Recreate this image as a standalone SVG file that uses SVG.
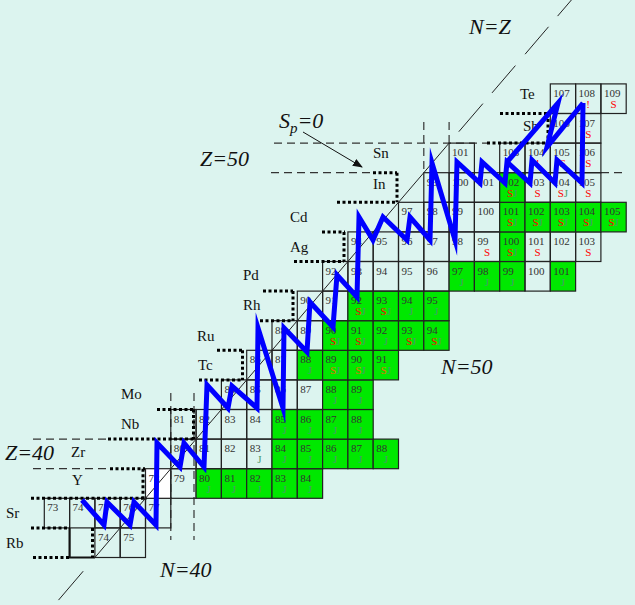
<svg xmlns="http://www.w3.org/2000/svg" width="635" height="605" viewBox="0 0 635 605">
<style>
.bg{fill:#dcf4ef}
.c{fill:none;stroke:#222;stroke-width:1.2}
.g{fill:#00e800}
.w{fill:#ffffff}
.n{font-family:"Liberation Serif",serif;font-size:11px;fill:#333}
.m{font-family:"Liberation Serif",serif;font-size:11px;text-anchor:middle}
.s{fill:#ff0000}
.o{fill:#e07000}
.j{fill:#4c9a6c}
.dash{fill:none;stroke:#333;stroke-width:1.2;stroke-dasharray:8 5}
.dot{fill:none;stroke:#000;stroke-width:3;stroke-dasharray:3 2.5}
.nz{fill:none;stroke:#222;stroke-width:1}
.big{font-family:"Liberation Serif",serif;font-size:22px;font-style:italic;fill:#111}
.el{font-family:"Liberation Serif",serif;font-size:15px;fill:#111}
.path{fill:none;stroke:#0000ff;stroke-width:5;stroke-linejoin:miter;stroke-miterlimit:10}
</style>
<defs>
<marker id="ah" markerWidth="10" markerHeight="8" refX="9" refY="4" orient="auto" markerUnits="userSpaceOnUse">
<path d="M0,0 L10,4 L0,8 Z" fill="#111"/>
</marker>
</defs>
<rect class="bg" x="0" y="0" width="635" height="605"/>

<g id="magic-lines">
<path class="dash" d="M33,439.1 H108 M33,468.7 H110"/>
<path class="dash" d="M274,143.1 H487 M271,172.7 H373 M601,172.7 H626"/>
<path class="dash" d="M170.8,393 V540 M194,393 V540"/>
<path class="dash" d="M423.8,122 V172.7 M449.1,122 V143.1"/>
</g>

<g id="cells">
<!-- Rb -->
<g id="Rb-blank"><path d="M69.6,527.9 V557.5 H94.9" fill="none" stroke="#111" stroke-width="2.2"/></g>
<g id="Rb74" transform="translate(94.9,527.9)"><rect class="c" width="25.3" height="29.6"/><text class="n" x="3" y="13">74</text></g>
<g id="Rb75" transform="translate(120.2,527.9)"><rect class="c" width="25.3" height="29.6"/><text class="n" x="3" y="13">75</text></g>
<!-- Sr -->
<g id="Sr73" transform="translate(44.3,498.3)"><rect class="c" width="25.3" height="29.6"/><text class="n" x="3" y="13">73</text></g>
<g id="Sr74" transform="translate(69.6,498.3)"><rect class="c" width="25.3" height="29.6"/><text class="n" x="3" y="13">74</text></g>
<g id="Sr75" transform="translate(94.9,498.3)"><rect class="c" width="25.3" height="29.6"/><text class="n" x="3" y="13">75</text></g>
<g id="Sr76" transform="translate(120.2,498.3)"><rect class="c" width="25.3" height="29.6"/><text class="n" x="3" y="13">76</text></g>
<g id="Sr77" transform="translate(145.5,498.3)"><rect class="c" width="25.3" height="29.6"/><text class="n" x="3" y="13">77</text></g>
<!-- Y -->
<g id="Y78" transform="translate(145.5,468.7)"><rect class="c w" width="25.3" height="29.6"/><text class="n" x="3" y="13">78</text></g>
<g id="Y79" transform="translate(170.8,468.7)"><rect class="c" width="25.3" height="29.6"/><text class="n" x="3" y="13">79</text></g>
<g id="Y80" transform="translate(196.1,468.7)"><rect class="c g" width="25.3" height="29.6"/><text class="n" x="3" y="13">80</text><text class="m j" x="12.6" y="24">J</text></g>
<g id="Y81" transform="translate(221.4,468.7)"><rect class="c g" width="25.3" height="29.6"/><text class="n" x="3" y="13">81</text><text class="m j" x="12.6" y="24">J</text></g>
<g id="Y82" transform="translate(246.7,468.7)"><rect class="c g" width="25.3" height="29.6"/><text class="n" x="3" y="13">82</text><text class="m j" x="12.6" y="24">J</text></g>
<g id="Y83" transform="translate(272,468.7)"><rect class="c g" width="25.3" height="29.6"/><text class="n" x="3" y="13">83</text><text class="m j" x="12.6" y="24">J</text></g>
<g id="Y84" transform="translate(297.3,468.7)"><rect class="c g" width="25.3" height="29.6"/><text class="n" x="3" y="13">84</text><text class="m j" x="12.6" y="24">J</text></g>
<!-- Zr -->
<g id="Zr80" transform="translate(170.8,439.1)"><rect class="c" width="25.3" height="29.6"/><text class="n" x="3" y="13">80</text></g>
<g id="Zr81" transform="translate(196.1,439.1)"><rect class="c" width="25.3" height="29.6"/><text class="n" x="3" y="13">81</text></g>
<g id="Zr82" transform="translate(221.4,439.1)"><rect class="c" width="25.3" height="29.6"/><text class="n" x="3" y="13">82</text></g>
<g id="Zr83" transform="translate(246.7,439.1)"><rect class="c" width="25.3" height="29.6"/><text class="n" x="3" y="13">83</text><text class="m j" x="12.6" y="24">J</text></g>
<g id="Zr84" transform="translate(272,439.1)"><rect class="c g" width="25.3" height="29.6"/><text class="n" x="3" y="13">84</text><text class="m j" x="12.6" y="24">J</text></g>
<g id="Zr85" transform="translate(297.3,439.1)"><rect class="c g" width="25.3" height="29.6"/><text class="n" x="3" y="13">85</text><text class="m j" x="12.6" y="24">J</text></g>
<g id="Zr86" transform="translate(322.6,439.1)"><rect class="c g" width="25.3" height="29.6"/><text class="n" x="3" y="13">86</text><text class="m j" x="12.6" y="24">J</text></g>
<g id="Zr87" transform="translate(347.9,439.1)"><rect class="c g" width="25.3" height="29.6"/><text class="n" x="3" y="13">87</text><text class="m j" x="12.6" y="24">J</text></g>
<g id="Zr88" transform="translate(373.2,439.1)"><rect class="c g" width="25.3" height="29.6"/><text class="n" x="3" y="13">88</text><text class="m j" x="12.6" y="24">J</text></g>
<!-- Nb -->
<g id="Nb81" transform="translate(170.8,409.5)"><rect class="c" width="25.3" height="29.6"/><text class="n" x="3" y="13">81</text></g>
<g id="Nb82" transform="translate(196.1,409.5)"><rect class="c" width="25.3" height="29.6"/><text class="n" x="3" y="13">82</text></g>
<g id="Nb83" transform="translate(221.4,409.5)"><rect class="c" width="25.3" height="29.6"/><text class="n" x="3" y="13">83</text></g>
<g id="Nb84" transform="translate(246.7,409.5)"><rect class="c" width="25.3" height="29.6"/><text class="n" x="3" y="13">84</text></g>
<g id="Nb85" transform="translate(272,409.5)"><rect class="c g" width="25.3" height="29.6"/><text class="n" x="3" y="13">85</text><text class="m j" x="12.6" y="24">J</text></g>
<g id="Nb86" transform="translate(297.3,409.5)"><rect class="c g" width="25.3" height="29.6"/><text class="n" x="3" y="13">86</text><text class="m j" x="12.6" y="24">J</text></g>
<g id="Nb87" transform="translate(322.6,409.5)"><rect class="c g" width="25.3" height="29.6"/><text class="n" x="3" y="13">87</text><text class="m j" x="12.6" y="24">J</text></g>
<g id="Nb88" transform="translate(347.9,409.5)"><rect class="c g" width="25.3" height="29.6"/><text class="n" x="3" y="13">88</text><text class="m j" x="12.6" y="24">J</text></g>
<!-- Mo -->
<g id="Mo84" transform="translate(221.4,379.9)"><rect class="c" width="25.3" height="29.6"/><text class="n" x="3" y="13">84</text></g>
<g id="Mo85" transform="translate(246.7,379.9)"><rect class="c" width="25.3" height="29.6"/><text class="n" x="3" y="13">85</text></g>
<g id="Mo86" transform="translate(272,379.9)"><rect class="c" width="25.3" height="29.6"/><text class="n" x="3" y="13">86</text></g>
<g id="Mo87" transform="translate(297.3,379.9)"><rect class="c" width="25.3" height="29.6"/><text class="n" x="3" y="13">87</text></g>
<g id="Mo88" transform="translate(322.6,379.9)"><rect class="c g" width="25.3" height="29.6"/><text class="n" x="3" y="13">88</text><text class="m j" x="12.6" y="24">J</text></g>
<g id="Mo89" transform="translate(347.9,379.9)"><rect class="c g" width="25.3" height="29.6"/><text class="n" x="3" y="13">89</text><text class="m j" x="12.6" y="24">J</text></g>
<!-- Tc -->
<g id="Tc86" transform="translate(246.7,350.3)"><rect class="c" width="25.3" height="29.6"/><text class="n" x="3" y="13">86</text></g>
<g id="Tc87" transform="translate(272,350.3)"><rect class="c" width="25.3" height="29.6"/><text class="n" x="3" y="13">87</text></g>
<g id="Tc88" transform="translate(297.3,350.3)"><rect class="c g" width="25.3" height="29.6"/><text class="n" x="3" y="13">88</text><text class="m j" x="12.6" y="24">J</text></g>
<g id="Tc89" transform="translate(322.6,350.3)"><rect class="c g" width="25.3" height="29.6"/><text class="n" x="3" y="13">89</text><text class="m" x="12.6" y="24"><tspan class="o">S</tspan><tspan class="j">J</tspan></text></g>
<g id="Tc90" transform="translate(347.9,350.3)"><rect class="c g" width="25.3" height="29.6"/><text class="n" x="3" y="13">90</text><text class="m" x="12.6" y="24"><tspan class="o">S</tspan><tspan class="j">J</tspan></text></g>
<g id="Tc91" transform="translate(373.2,350.3)"><rect class="c g" width="25.3" height="29.6"/><text class="n" x="3" y="13">91</text><text class="m" x="12.6" y="24"><tspan class="o">S</tspan><tspan class="j">J</tspan></text></g>
<!-- Ru -->
<g id="Ru88" transform="translate(272,320.7)"><rect class="c" width="25.3" height="29.6"/><text class="n" x="3" y="13">88</text></g>
<g id="Ru89" transform="translate(297.3,320.7)"><rect class="c" width="25.3" height="29.6"/><text class="n" x="3" y="13">89</text></g>
<g id="Ru90" transform="translate(322.6,320.7)"><rect class="c g" width="25.3" height="29.6"/><text class="n" x="3" y="13">90</text><text class="m" x="12.6" y="24"><tspan class="s">S</tspan><tspan class="j">J</tspan></text></g>
<g id="Ru91" transform="translate(347.9,320.7)"><rect class="c g" width="25.3" height="29.6"/><text class="n" x="3" y="13">91</text><text class="m" x="12.6" y="24"><tspan class="s">S</tspan><tspan class="j">J</tspan></text></g>
<g id="Ru92" transform="translate(373.2,320.7)"><rect class="c g" width="25.3" height="29.6"/><text class="n" x="3" y="13">92</text><text class="m j" x="12.6" y="24">J</text></g>
<g id="Ru93" transform="translate(398.5,320.7)"><rect class="c g" width="25.3" height="29.6"/><text class="n" x="3" y="13">93</text><text class="m" x="12.6" y="24"><tspan class="s">S</tspan><tspan class="j">J</tspan></text></g>
<g id="Ru94" transform="translate(423.8,320.7)"><rect class="c g" width="25.3" height="29.6"/><text class="n" x="3" y="13">94</text><text class="m" x="12.6" y="24"><tspan class="s">S</tspan><tspan class="j">J</tspan></text></g>
<!-- Rh -->
<g id="Rh90" transform="translate(297.3,291.1)"><rect class="c" width="25.3" height="29.6"/><text class="n" x="3" y="13">90</text></g>
<g id="Rh91" transform="translate(322.6,291.1)"><rect class="c" width="25.3" height="29.6"/><text class="n" x="3" y="13">91</text></g>
<g id="Rh92" transform="translate(347.9,291.1)"><rect class="c g" width="25.3" height="29.6"/><text class="n" x="3" y="13">92</text><text class="m" x="12.6" y="24"><tspan class="s">S</tspan><tspan class="j">J</tspan></text></g>
<g id="Rh93" transform="translate(373.2,291.1)"><rect class="c g" width="25.3" height="29.6"/><text class="n" x="3" y="13">93</text><text class="m" x="12.6" y="24"><tspan class="s">S</tspan><tspan class="j">J</tspan></text></g>
<g id="Rh94" transform="translate(398.5,291.1)"><rect class="c g" width="25.3" height="29.6"/><text class="n" x="3" y="13">94</text><text class="m j" x="12.6" y="24">J</text></g>
<g id="Rh95" transform="translate(423.8,291.1)"><rect class="c g" width="25.3" height="29.6"/><text class="n" x="3" y="13">95</text><text class="m j" x="12.6" y="24">J</text></g>
<!-- Pd -->
<g id="Pd92" transform="translate(322.6,261.5)"><rect class="c" width="25.3" height="29.6"/><text class="n" x="3" y="13">92</text></g>
<g id="Pd93" transform="translate(347.9,261.5)"><rect class="c" width="25.3" height="29.6"/><text class="n" x="3" y="13">93</text></g>
<g id="Pd94" transform="translate(373.2,261.5)"><rect class="c" width="25.3" height="29.6"/><text class="n" x="3" y="13">94</text></g>
<g id="Pd95" transform="translate(398.5,261.5)"><rect class="c" width="25.3" height="29.6"/><text class="n" x="3" y="13">95</text></g>
<g id="Pd96" transform="translate(423.8,261.5)"><rect class="c" width="25.3" height="29.6"/><text class="n" x="3" y="13">96</text></g>
<g id="Pd97" transform="translate(449.1,261.5)"><rect class="c g" width="25.3" height="29.6"/><text class="n" x="3" y="13">97</text><text class="m j" x="12.6" y="24">J</text></g>
<g id="Pd98" transform="translate(474.4,261.5)"><rect class="c g" width="25.3" height="29.6"/><text class="n" x="3" y="13">98</text><text class="m j" x="12.6" y="24">J</text></g>
<g id="Pd99" transform="translate(499.7,261.5)"><rect class="c g" width="25.3" height="29.6"/><text class="n" x="3" y="13">99</text><text class="m j" x="12.6" y="24">J</text></g>
<g id="Pd100" transform="translate(525,261.5)"><rect class="c" width="25.3" height="29.6"/><text class="n" x="3" y="13">100</text></g>
<g id="Pd101" transform="translate(550.3,261.5)"><rect class="c g" width="25.3" height="29.6"/><text class="n" x="3" y="13">101</text><text class="m j" x="12.6" y="24">J</text></g>
<!-- Ag -->
<g id="Ag94" transform="translate(347.9,231.9)"><rect class="c" width="25.3" height="29.6"/><text class="n" x="3" y="13">94</text></g>
<g id="Ag95" transform="translate(373.2,231.9)"><rect class="c" width="25.3" height="29.6"/><text class="n" x="3" y="13">95</text></g>
<g id="Ag96" transform="translate(398.5,231.9)"><rect class="c" width="25.3" height="29.6"/><text class="n" x="3" y="13">96</text></g>
<g id="Ag97" transform="translate(423.8,231.9)"><rect class="c" width="25.3" height="29.6"/><text class="n" x="3" y="13">97</text></g>
<g id="Ag98" transform="translate(449.1,231.9)"><rect class="c" width="25.3" height="29.6"/><text class="n" x="3" y="13">98</text></g>
<g id="Ag99" transform="translate(474.4,231.9)"><rect class="c" width="25.3" height="29.6"/><text class="n" x="3" y="13">99</text><text class="m s" x="12.6" y="24">S</text></g>
<g id="Ag100" transform="translate(499.7,231.9)"><rect class="c g" width="25.3" height="29.6"/><text class="n" x="3" y="13">100</text><text class="m" x="12.6" y="24"><tspan class="s">S</tspan><tspan class="j">J</tspan></text></g>
<g id="Ag101" transform="translate(525,231.9)"><rect class="c" width="25.3" height="29.6"/><text class="n" x="3" y="13">101</text><text class="m s" x="12.6" y="24">S</text></g>
<g id="Ag102" transform="translate(550.3,231.9)"><rect class="c" width="25.3" height="29.6"/><text class="n" x="3" y="13">102</text></g>
<g id="Ag103" transform="translate(575.6,231.9)"><rect class="c" width="25.3" height="29.6"/><text class="n" x="3" y="13">103</text><text class="m s" x="12.6" y="24">S</text></g>
<!-- Cd -->
<g id="Cd97" transform="translate(398.5,202.3)"><rect class="c" width="25.3" height="29.6"/><text class="n" x="3" y="13">97</text></g>
<g id="Cd98" transform="translate(423.8,202.3)"><rect class="c" width="25.3" height="29.6"/><text class="n" x="3" y="13">98</text></g>
<g id="Cd99" transform="translate(449.1,202.3)"><rect class="c" width="25.3" height="29.6"/><text class="n" x="3" y="13">99</text></g>
<g id="Cd100" transform="translate(474.4,202.3)"><rect class="c" width="25.3" height="29.6"/><text class="n" x="3" y="13">100</text></g>
<g id="Cd101" transform="translate(499.7,202.3)"><rect class="c g" width="25.3" height="29.6"/><text class="n" x="3" y="13">101</text><text class="m" x="12.6" y="24"><tspan class="s">S</tspan><tspan class="j">J</tspan></text></g>
<g id="Cd102" transform="translate(525,202.3)"><rect class="c g" width="25.3" height="29.6"/><text class="n" x="3" y="13">102</text><text class="m" x="12.6" y="24"><tspan class="s">S</tspan><tspan class="j">J</tspan></text></g>
<g id="Cd103" transform="translate(550.3,202.3)"><rect class="c g" width="25.3" height="29.6"/><text class="n" x="3" y="13">103</text><text class="m" x="12.6" y="24"><tspan class="s">S</tspan><tspan class="j">J</tspan></text></g>
<g id="Cd104" transform="translate(575.6,202.3)"><rect class="c g" width="25.3" height="29.6"/><text class="n" x="3" y="13">104</text><text class="m" x="12.6" y="24"><tspan class="s">S</tspan><tspan class="j">J</tspan></text></g>
<g id="Cd105" transform="translate(600.9,202.3)"><rect class="c g" width="25.3" height="29.6"/><text class="n" x="3" y="13">105</text><text class="m" x="12.6" y="24"><tspan class="s">S</tspan><tspan class="j">J</tspan></text></g>
<!-- In -->
<g id="In99" transform="translate(423.8,172.7)"><rect class="c" width="25.3" height="29.6"/><text class="n" x="3" y="13">99</text></g>
<g id="In100" transform="translate(449.1,172.7)"><rect class="c" width="25.3" height="29.6"/><text class="n" x="3" y="13">100</text></g>
<g id="In101" transform="translate(474.4,172.7)"><rect class="c" width="25.3" height="29.6"/><text class="n" x="3" y="13">101</text></g>
<g id="In102" transform="translate(499.7,172.7)"><rect class="c g" width="25.3" height="29.6"/><text class="n" x="3" y="13">102</text><text class="m" x="12.6" y="24"><tspan class="s">S</tspan><tspan class="j">J</tspan></text></g>
<g id="In103" transform="translate(525,172.7)"><rect class="c" width="25.3" height="29.6"/><text class="n" x="3" y="13">103</text><text class="m s" x="12.6" y="24">S</text></g>
<g id="In104" transform="translate(550.3,172.7)"><rect class="c" width="25.3" height="29.6"/><text class="n" x="3" y="13">104</text><text class="m" x="12.6" y="24"><tspan class="s">S</tspan><tspan class="j">J</tspan></text></g>
<g id="In105" transform="translate(575.6,172.7)"><rect class="c" width="25.3" height="29.6"/><text class="n" x="3" y="13">105</text><text class="m s" x="12.6" y="24">S</text></g>
<!-- Sn -->
<g id="Sn101" transform="translate(449.1,143.1)"><rect class="c" width="25.3" height="29.6"/><text class="n" x="3" y="13">101</text></g>
<g id="Sn103" transform="translate(499.7,143.1)"><rect class="c" width="25.3" height="29.6"/><text class="n" x="3" y="13">103</text></g>
<g id="Sn104" transform="translate(525,143.1)"><rect class="c" width="25.3" height="29.6"/><text class="n" x="3" y="13">104</text><text class="m s" x="12.6" y="24">!</text></g>
<g id="Sn105" transform="translate(550.3,143.1)"><rect class="c" width="25.3" height="29.6"/><text class="n" x="3" y="13">105</text><text class="m s" x="12.6" y="24">S</text></g>
<g id="Sn106" transform="translate(575.6,143.1)"><rect class="c" width="25.3" height="29.6"/><text class="n" x="3" y="13">106</text><text class="m s" x="12.6" y="24">S</text></g>
<!-- Sb -->
<g id="Sb106" transform="translate(550.3,113.5)"><rect class="c" width="25.3" height="29.6"/><text class="n" x="3" y="13">106</text></g>
<g id="Sb107" transform="translate(575.6,113.5)"><rect class="c" width="25.3" height="29.6"/><text class="n" x="3" y="13">107</text><text class="m s" x="12.6" y="24">S</text></g>
<!-- Te -->
<g id="Te107" transform="translate(550.3,83.9)"><rect class="c" width="25.3" height="29.6"/><text class="n" x="3" y="13">107</text></g>
<g id="Te108" transform="translate(575.6,83.9)"><rect class="c" width="25.3" height="29.6"/><text class="n" x="3" y="13">108</text><text class="m s" x="12.6" y="24">!</text></g>
<g id="Te109" transform="translate(600.9,83.9)"><rect class="c" width="25.3" height="29.6"/><text class="n" x="3" y="13">109</text><text class="m s" x="12.6" y="24">S</text></g>
</g>

<g id="drip-line">
<path class="dot" d="M31,527.9 H70 M33,557.5 H70 M92.5,527.9 V557.5"/>
<path class="dot" d="M31,498.3 H147 M143,468.7 V498.3 M110,468.7 H145"/>
<path class="dot" d="M108,439.1 H194 M193.5,409.5 V439.1 M157,409.5 H194"/>
<path class="dot" d="M199,379.9 H243 M242.5,350.3 V379.9 M217,350.3 H243"/>
<path class="dot" d="M260,320.7 H293 M293,291.1 V320.7 M263,291.1 H293"/>
<path class="dot" d="M294,261.5 H344 M344,231.9 V261.5 M322,231.9 H345"/>
<path class="dot" d="M337,202.3 H397 M397,172.7 V202.3 M373,172.7 H397"/>
<path class="dot" d="M487,143.1 H548 M548,113.5 V143.1 M500,113.5 H548"/>
</g>

<g id="NZ-line">
<path class="nz" d="M94.9,557.5 L449.1,143.1"/>
<path class="nz" d="M83.2,571.2 L58.5,600.1 M458.8,131.7 L482.9,103.6 M492,92.9 L515.4,65.6 M525.1,54.2 L548.5,26.8 M557.6,16.1 L581,-11.2"/>
</g>

<g id="labels">
<text class="big" x="469" y="34">N=Z</text>
<text class="big" x="200" y="166">Z=50</text>
<text class="big" x="5" y="460">Z=40</text>
<text class="big" x="160" y="577">N=40</text>
<text class="big" x="441" y="374">N=50</text>
<text class="big" x="279" y="128">S<tspan font-size="15" dy="5">p</tspan><tspan dy="-5">=0</tspan></text>
<text class="el" x="6" y="548">Rb</text>
<text class="el" x="6" y="518">Sr</text>
<text class="el" x="72" y="485">Y</text>
<text class="el" x="71" y="457">Zr</text>
<text class="el" x="121" y="429">Nb</text>
<text class="el" x="121" y="399">Mo</text>
<text class="el" x="198" y="370">Tc</text>
<text class="el" x="197" y="341">Ru</text>
<text class="el" x="243" y="310">Rh</text>
<text class="el" x="243" y="280">Pd</text>
<text class="el" x="290" y="252">Ag</text>
<text class="el" x="290" y="222">Cd</text>
<text class="el" x="373" y="189">In</text>
<text class="el" x="373" y="158">Sn</text>
<text class="el" x="523" y="131">Sb</text>
<text class="el" x="520" y="99">Te</text>
</g>

<g id="connectors">
<path class="path" d="M82,500 L104,525 L107,502 L130,525 L134,502 L156,525 L157,443 L180,467 L184,443 L204,467 L207,385 L228,408 L232,386 L257,408 L258,328 L283,408 L284,328 L307,352 L310,302 L333,327 L337,275 L357,297 L359,217 L373,240 L383,217 L407,240 L410,217 L430,240 L432,163 L455,240 L457,162 L480,183 L482,162 L505,183 L507,162 L530,183 L532,160 L555,183 L557,160 L582,183 L583,103"/>
<path class="path" d="M507,162 L558,103 L547,147 L583,103"/>
<path d="M303,132 L362,167" fill="none" stroke="#111" stroke-width="1" marker-end="url(#ah)"/>
</g>
</svg>
